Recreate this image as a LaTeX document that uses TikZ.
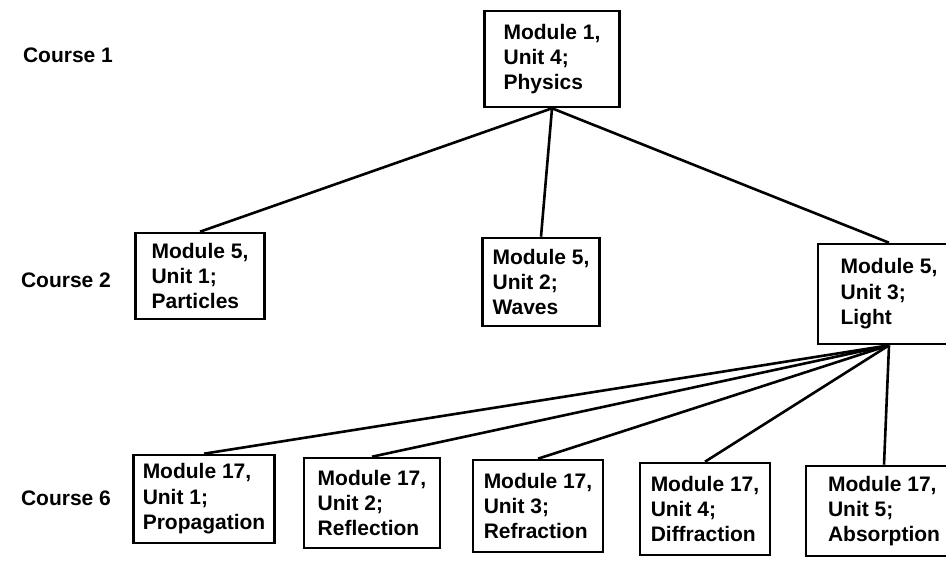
\documentclass[tikz,border=0pt]{standalone}
\usepackage{fontspec}
\setmainfont{Liberation Sans}

\begin{document}
\begin{tikzpicture}
      [%%%%%%%%%%%%%%%%%%%%%%%%%%%%%%
      x=0.5pt,y=-0.5pt,
      modbox/.style={rectangle,draw=black,line width=1.3pt,align=left,inner sep=0pt,
        font=\fontsize{10.5}{12.7}\selectfont\bfseries},
      course/.style={font=\fontsize{10.5}{12.7}\selectfont\bfseries},
      link/.style={draw=black,line width=1.3pt},
      ]%%%%%%%%%%%%%%%%%%%%%%%%%%%%%%

      \useasboundingbox (0,0) rectangle (946,563);
      \clip (0,0) rectangle (946,563);

      \node[course] (c1) at (68,55) {Course 1};
      \node[course] (c2) at (66,280) {Course 2};
      \node[course] (c6) at (66,498) {Course 6};

      \node[modbox,minimum width=67.5pt,minimum height=48pt] (phys) at (552,59) {Module 1,\\Unit 4;\\Physics};

      \node[modbox,minimum width=64.5pt,minimum height=43pt] (part) at (200,276) {Module 5,\\Unit 1;\\Particles};
      \node[modbox,minimum width=58.5pt,minimum height=44pt] (wave) at (541,282) {Module 5,\\Unit 2;\\Waves};
      \node[modbox,minimum width=71pt,minimum height=50pt] (light) at (889,294) {Module 5,\\Unit 3;\\Light};

      \node[modbox,minimum width=70.5pt,minimum height=44pt] (prop) at (204,499) {Module 17,\\Unit 1;\\Propagation};
      \node[modbox,minimum width=68pt,minimum height=45pt] (refl) at (372,503) {Module 17,\\Unit 2;\\Reflection};
      \node[modbox,minimum width=65pt,minimum height=46pt] (refr) at (538,506) {Module 17,\\Unit 3;\\Refraction};
      \node[modbox,minimum width=65pt,minimum height=46pt] (diff) at (705,509) {Module 17,\\Unit 4;\\Diffraction};
      \node[modbox,minimum width=78pt,minimum height=45pt] (abso) at (884,511) {Module 17,\\Unit 5;\\Absorption};

      \draw[link] (phys.south) -- (part.north);
      \draw[link] (phys.south) -- (wave.north);
      \draw[link] (phys.south) -- (light.north);

      \draw[link] (light.south) -- (prop.north);
      \draw[link] (light.south) -- (refl.north);
      \draw[link] (light.south) -- (refr.north);
      \draw[link] (light.south) -- (diff.north);
      \draw[link] (light.south) -- (abso.north);
    \end{tikzpicture}
\end{document}
